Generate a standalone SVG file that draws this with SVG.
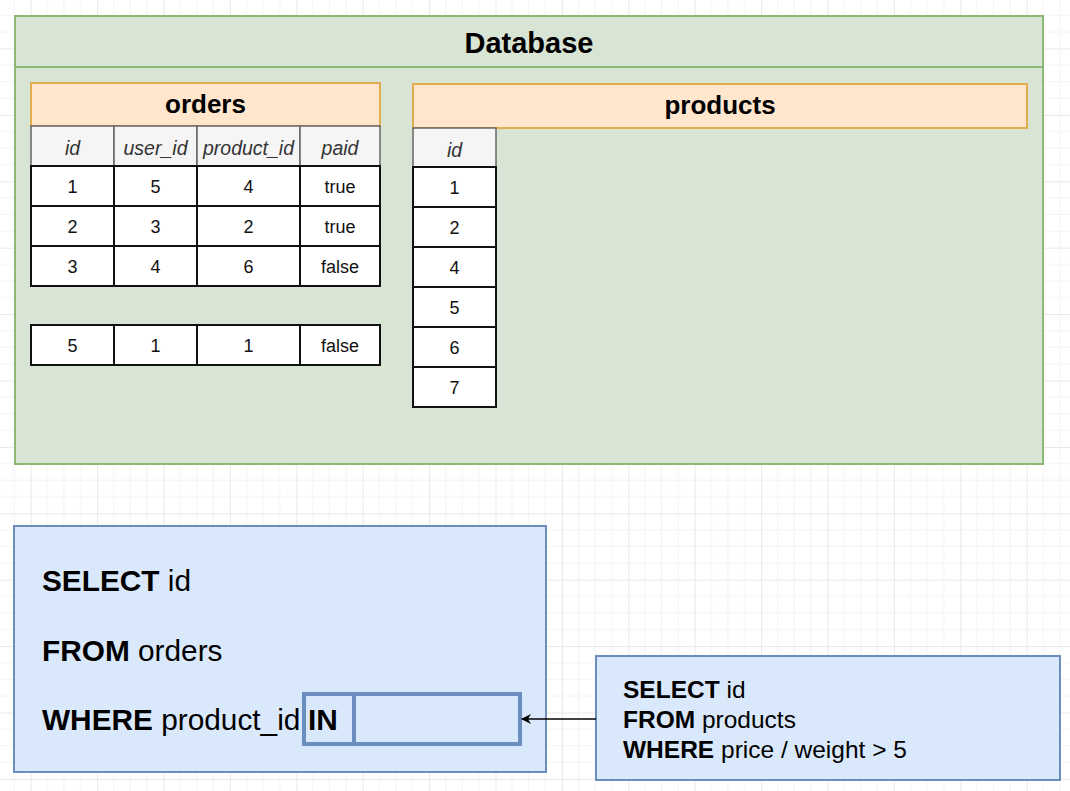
<svg xmlns="http://www.w3.org/2000/svg" width="1070" height="791" viewBox="0 0 1070 791">
<defs>
  <pattern id="grid" x="30.7" y="48.5" width="66.4" height="66.4" patternUnits="userSpaceOnUse">
    <path d="M16.6 0V66.4M33.2 0V66.4M49.8 0V66.4M0 16.6H66.4M0 33.2H66.4M0 49.8H66.4" stroke="#f3f3f3" stroke-width="1" fill="none"/>
    <path d="M0.5 0V66.4M0 0.5H66.4" stroke="#e8e8e8" stroke-width="1" fill="none"/>
  </pattern>
  <marker id="arr" viewBox="0 0 10 10" refX="9" refY="5" markerWidth="10" markerHeight="10" markerUnits="userSpaceOnUse" orient="auto">
    <path d="M0 0L10 5L0 10L3 5Z" fill="#000"/>
  </marker>
  <style>
    .t{font-family:"Liberation Sans",Arial,sans-serif;fill:#000}
    .b{font-weight:bold}
    .hdr{fill:#ffe6cc;stroke:#e2ad4f;stroke-width:2}
    .colh{fill:#f5f5f5;stroke:#666;stroke-width:1.5}
    .cell{fill:#fff;stroke:#111;stroke-width:2}
    .ch{font-family:"Liberation Sans",Arial,sans-serif;font-style:italic;font-size:19.5px;fill:#333;text-anchor:middle}
    .cv{font-family:"Liberation Sans",Arial,sans-serif;font-size:18px;fill:#111;text-anchor:middle}
    .blue{fill:#dae8fc;stroke:#6c8ebf;stroke-width:2}
  </style>
</defs>
<rect width="1070" height="791" fill="#fff"/>
<rect width="1070" height="791" fill="url(#grid)"/>

<g id="database">
  <rect x="15" y="16" width="1028" height="448" fill="#d8e4d4" stroke="#8fb876" stroke-width="2"/>
  <line x1="15" y1="67" x2="1043" y2="67" stroke="#8fb876" stroke-width="2"/>
  <text class="t b" x="529" y="53" font-size="29" text-anchor="middle">Database</text>
</g>

<g id="orders">
  <rect class="hdr" x="31" y="83" width="349" height="43"/>
  <text class="t b" x="205.5" y="113" font-size="26" text-anchor="middle">orders</text>
  <rect class="colh" x="31" y="126" width="83" height="40"/>
  <rect class="colh" x="114" y="126" width="83" height="40"/>
  <rect class="colh" x="197" y="126" width="103" height="40"/>
  <rect class="colh" x="300" y="126" width="80" height="40"/>
  <text class="ch" x="72.5" y="155">id</text>
  <text class="ch" x="155.5" y="155">user_id</text>
  <text class="ch" x="248.5" y="155">product_id</text>
  <text class="ch" x="340" y="155">paid</text>
  <g>
    <rect class="cell" x="31" y="166" width="83" height="40"/><rect class="cell" x="114" y="166" width="83" height="40"/><rect class="cell" x="197" y="166" width="103" height="40"/><rect class="cell" x="300" y="166" width="80" height="40"/>
    <text class="cv" x="72.5" y="193">1</text><text class="cv" x="155.5" y="193">5</text><text class="cv" x="248.5" y="193">4</text><text class="cv" x="340" y="193">true</text>
  </g>
  <g>
    <rect class="cell" x="31" y="206" width="83" height="40"/><rect class="cell" x="114" y="206" width="83" height="40"/><rect class="cell" x="197" y="206" width="103" height="40"/><rect class="cell" x="300" y="206" width="80" height="40"/>
    <text class="cv" x="72.5" y="233">2</text><text class="cv" x="155.5" y="233">3</text><text class="cv" x="248.5" y="233">2</text><text class="cv" x="340" y="233">true</text>
  </g>
  <g>
    <rect class="cell" x="31" y="246" width="83" height="40"/><rect class="cell" x="114" y="246" width="83" height="40"/><rect class="cell" x="197" y="246" width="103" height="40"/><rect class="cell" x="300" y="246" width="80" height="40"/>
    <text class="cv" x="72.5" y="273">3</text><text class="cv" x="155.5" y="273">4</text><text class="cv" x="248.5" y="273">6</text><text class="cv" x="340" y="273">false</text>
  </g>
  <g>
    <rect class="cell" x="31" y="325" width="83" height="40"/><rect class="cell" x="114" y="325" width="83" height="40"/><rect class="cell" x="197" y="325" width="103" height="40"/><rect class="cell" x="300" y="325" width="80" height="40"/>
    <text class="cv" x="72.5" y="352">5</text><text class="cv" x="155.5" y="352">1</text><text class="cv" x="248.5" y="352">1</text><text class="cv" x="340" y="352">false</text>
  </g>
</g>

<g id="products">
  <rect class="hdr" x="413" y="84" width="614" height="44"/>
  <text class="t b" x="720" y="114" font-size="26" text-anchor="middle">products</text>
  <rect class="colh" x="413" y="128" width="83" height="39"/>
  <text class="ch" x="454.5" y="157">id</text>
  <rect class="cell" x="413" y="167" width="83" height="40"/><text class="cv" x="454.5" y="194">1</text>
  <rect class="cell" x="413" y="207" width="83" height="40"/><text class="cv" x="454.5" y="234">2</text>
  <rect class="cell" x="413" y="247" width="83" height="40"/><text class="cv" x="454.5" y="274">4</text>
  <rect class="cell" x="413" y="287" width="83" height="40"/><text class="cv" x="454.5" y="314">5</text>
  <rect class="cell" x="413" y="327" width="83" height="40"/><text class="cv" x="454.5" y="354">6</text>
  <rect class="cell" x="413" y="367" width="83" height="40"/><text class="cv" x="454.5" y="394">7</text>
</g>

<g id="main-query">
  <rect class="blue" x="14" y="526" width="532" height="246"/>
  <text class="t" x="42" y="591" font-size="29.8"><tspan class="b">SELECT</tspan> id</text>
  <text class="t" x="42" y="661" font-size="29.8"><tspan class="b">FROM</tspan> orders</text>
  <text class="t" x="42" y="730" font-size="29.8"><tspan class="b">WHERE</tspan> product_id</text>
  <g id="in-box">
    <rect x="304" y="694" width="216" height="50" fill="#dae8fc" stroke="#6c8ebf" stroke-width="4"/>
    <line x1="354" y1="694" x2="354" y2="744" stroke="#6c8ebf" stroke-width="4"/>
    <text class="t b" x="308" y="730" font-size="29.8">IN</text>
  </g>
</g>

<g id="sub-query">
  <rect class="blue" x="596" y="656" width="464" height="124"/>
  <text class="t" x="623" y="698" font-size="24.5"><tspan class="b">SELECT</tspan> id</text>
  <text class="t" x="623" y="728" font-size="24.5"><tspan class="b">FROM</tspan> products</text>
  <text class="t" x="623" y="758" font-size="24.5"><tspan class="b">WHERE</tspan> price / weight &gt; 5</text>
</g>

<g id="connectors">
  <line x1="596" y1="719" x2="522" y2="719" stroke="#000" stroke-width="1.5" marker-end="url(#arr)"/>
</g>
</svg>
